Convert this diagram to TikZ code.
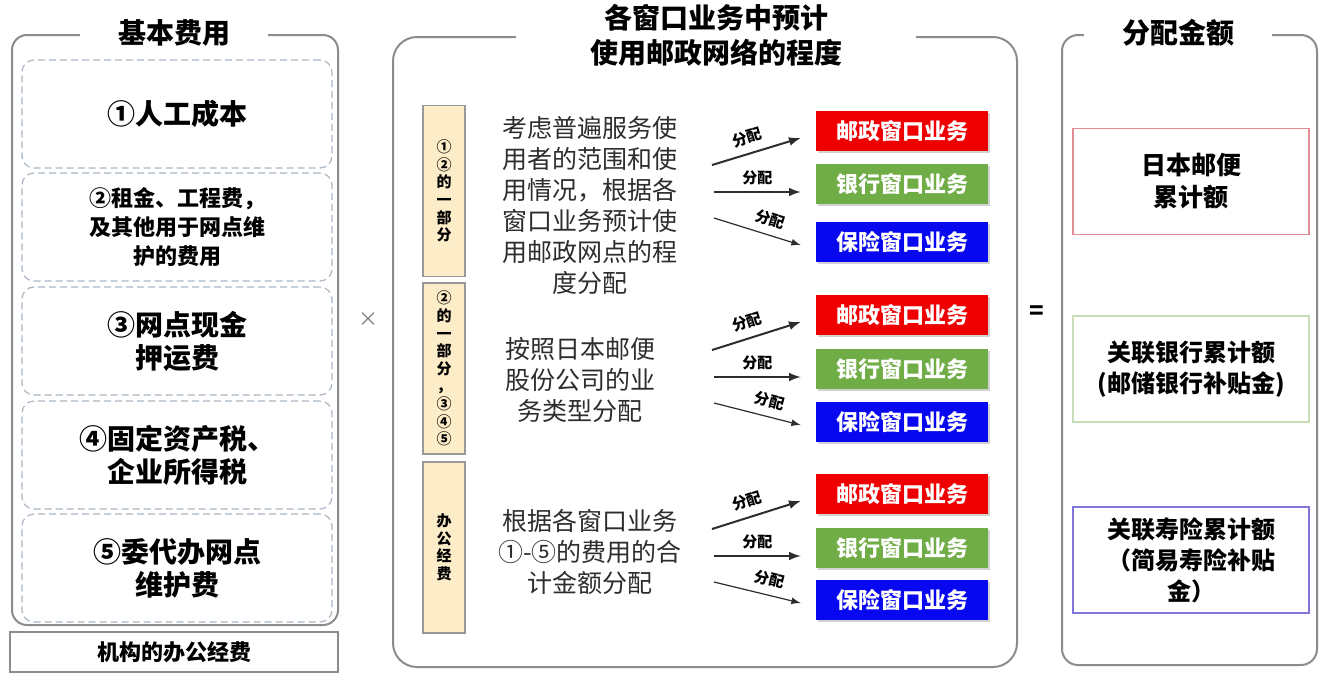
\documentclass[tikz,border=0pt]{standalone}
\usepackage{fontspec}
\setmainfont{Noto Sans CJK SC}
\usetikzlibrary{calc,shadows}
\definecolor{panelgray}{RGB}{140,140,140}
\definecolor{dashblue}{RGB}{170,182,196}
\definecolor{tanfill}{RGB}{252,236,200}
\definecolor{postred}{RGB}{238,0,0}
\definecolor{bankgreen}{RGB}{112,173,71}
\definecolor{insblue}{RGB}{8,8,240}
\definecolor{redline}{RGB}{228,140,150}
\definecolor{greenline}{RGB}{200,222,185}
\definecolor{purpleline}{RGB}{128,118,220}
\definecolor{txtgray}{RGB}{45,45,45}
\newcommand{\fsz}[2]{\fontsize{#1}{#2}\selectfont}

\begin{document}
\begin{tikzpicture}[x=0.5pt, y=-0.5pt, >=latex,
    panel/.style={draw=panelgray, line width=1pt},
    paneltitle/.style={fill=white, inner ysep=2pt, align=center, font=\bfseries\fsz{14}{17.5}},
    costbox/.style={draw=dashblue, dash pattern=on 3.5pt off 2pt, line width=0.6pt, rounded corners=6pt,
        minimum width=155pt, minimum height=54pt, align=center, font=\bfseries\fsz{14}{16.5}},
    partbox/.style={draw=gray!80, line width=0.8pt, fill=tanfill, minimum width=21pt, minimum height=85.5pt,
        align=center, font=\bfseries\fsz{7.5}{8.8}},
    desc/.style={align=center, text=txtgray, font=\fsz{12.5}{15.5}},
    window/.style={minimum width=86pt, minimum height=20pt, text=white, font=\bfseries\fsz{11}{13},
        drop shadow={shadow xshift=1.2pt, shadow yshift=-0.8pt, opacity=0.35}},
    result/.style={draw, line width=0.8pt, minimum width=118pt, minimum height=53pt, align=center,
        font=\bfseries\fsz{12}{15.5}},
    alloc/.style={->, draw=txtgray, line width=1pt},
    allocthin/.style={alloc, line width=0.6pt},
    alloclabel/.style={font=\bfseries\fsz{7.5}{8.5}, inner sep=1pt},
]
    \fill[white] (0,0) rectangle (1328,677);
    \useasboundingbox (0,0) rectangle (1328,677);

    % basic costs
    \draw[panel, rounded corners=7.5pt] (12,35) rectangle (338,625);
    \node[paneltitle, inner xsep=19pt] (basetitle) at (174,33) {基本费用};
    \node[costbox] (cost1) at (177,114) {①人工成本};
    \node[costbox, font=\bfseries\fsz{11}{14.5}] (cost2) at (177,227) {②租金、工程费，\\及其他用于网点维\\护的费用};
    \node[costbox] (cost3) at (177,341) {③网点现金\\押运费};
    \node[costbox] (cost4) at (177,455) {④固定资产税、\\企业所得税};
    \node[costbox] (cost5) at (177,568) {⑤委代办网点\\维护费};
    \node[draw=panelgray, line width=1pt, minimum width=164pt, minimum height=20pt,
        font=\bfseries\fsz{11}{13}] (office) at (174,652) {机构的办公经费};

    \node[text=gray, font=\fsz{10}{12}] (times) at (368,320) {×};

    % usage of postal network
    \draw[panel, rounded corners=12pt] (393,37) rectangle (1017,667);
    \node[paneltitle, inner xsep=37pt] (usetitle) at (716,35) {各窗口业务中预计\\使用邮政网络的程度};

    \node[partbox] (part1) at (444,191) {①\\②\\的\\一\\部\\分};
    \node[partbox] (part2) at (444,368.5) {②\\的\\一\\部\\分\\，\\③\\④\\⑤};
    \node[partbox] (part3) at (444,547.5) {办\\公\\经\\费};

    \node[desc] (desc1) at (590,205) {考虑普遍服务使\\用者的范围和使\\用情况，根据各\\窗口业务预计使\\用邮政网点的程\\度分配};
    \node[desc] (desc2) at (580,380) {按照日本邮便\\股份公司的业\\务类型分配};
    \node[desc] (desc3) at (590,552) {根据各窗口业务\\①-⑤的费用的合\\计金额分配};

    \foreach \g/\yr/\yg/\yb in {1/131/184/242, 2/315/369/422, 3/494/548/600} {
        \node[window, fill=postred]   (red\g)   at (902,\yr) {邮政窗口业务};
        \node[window, fill=bankgreen] (green\g) at (902,\yg) {银行窗口业务};
        \node[window, fill=insblue]   (blue\g)  at (902,\yb) {保险窗口业务};
        \coordinate (up\g) at (712,\yg-19);
        \coordinate (mid\g) at (714,\yg+8);
        \coordinate (dn\g) at (714,\yg+34);
        \draw[alloc] (up\g) -- ($(red\g.west)+(-15,7)$) node[pos=0.45, above=3pt, sloped, alloclabel] {分配};
        \draw[alloc] (mid\g) -- ($(green\g.west)+(-15,8)$) node[midway, above=2pt, alloclabel] {分配};
        \draw[allocthin] (dn\g) -- ($(blue\g.west)+(-15,3)$) node[pos=0.6, above=3pt, sloped, alloclabel] {分配};
    }

    \node[font=\bfseries\fsz{12}{14}] (equals) at (1037,313) {=};

    % allocated amounts
    \draw[panel, rounded corners=8pt] (1062,35) rectangle (1317,665);
    \node[paneltitle, inner xsep=19pt] (amounttitle) at (1178,33) {分配金额};
    \node[result, draw=redline, font=\bfseries\fsz{12.5}{16}] (japanpost) at (1191,181.5) {日本邮便\\累计额};
    \node[result, draw=greenline] (bankamt) at (1191,369) {关联银行累计额\\(邮储银行补贴金)};
    \node[result, draw=purpleline] (insamt) at (1191,560) {关联寿险累计额\\（简易寿险补贴\\金）};
\end{tikzpicture}
\end{document}
